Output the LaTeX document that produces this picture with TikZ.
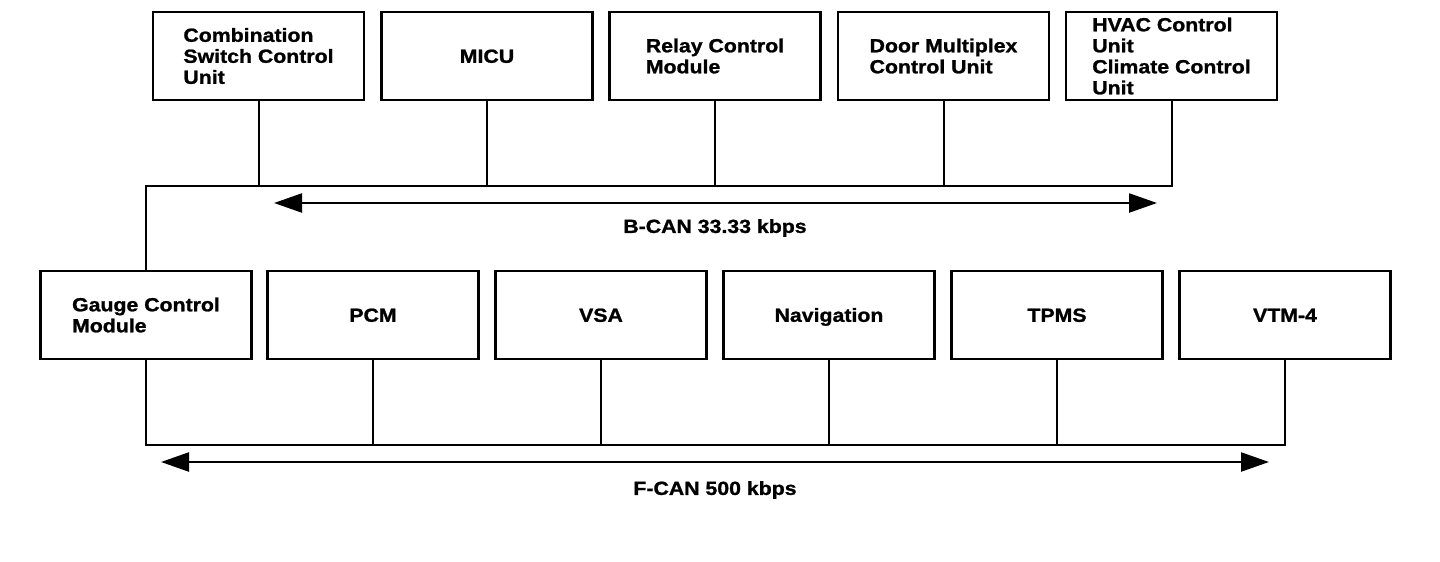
\documentclass[tikz,border=0pt]{standalone}
\usepackage{fontspec}
\setmainfont{Liberation Sans}[FakeStretch=1.12, BoldFeatures={FakeBold=1.2}]
\usetikzlibrary{arrows.meta}
\tikzset{
  unitbox/.style={draw, line width=2.8pt, minimum width=211pt, minimum height=88pt,
    inner sep=0pt, align=left, font=\bfseries\fontsize{19}{21}\selectfont},
  oneline/.style={text height=13.6pt, text depth=0pt},
  busline/.style={line width=2pt},
  canarrow/.style={line width=2.4pt, {Triangle[length=28pt,width=19pt]}-{Triangle[length=28pt,width=19pt]}},
  canlabel/.style={font=\bfseries\fontsize{19}{21}\selectfont, inner sep=0pt}
}
\begin{document}
\begin{tikzpicture}[x=1pt,y=-1pt]
\useasboundingbox (0,0) rectangle (1440,562);
% top row
\node[unitbox] (csu) at (258.5,56) {Combination\\Switch Control\\Unit};
\node[unitbox,oneline] (micu) at (487,56) {MICU};
\node[unitbox] (rcm) at (715,56) {Relay Control\\Module};
\node[unitbox] (dmcu) at (943.5,56) {Door Multiplex\\Control Unit};
\node[unitbox] (hvac) at (1171.5,56) {HVAC Control\\Unit\\Climate Control\\Unit};
% bottom row
\node[unitbox] (gcm) at (146,315) {Gauge Control\\Module};
\node[unitbox,oneline] (pcm) at (373,315) {PCM};
\node[unitbox,oneline] (vsa) at (601,315) {VSA};
\node[unitbox,oneline] (nav) at (829,315) {Navigation};
\node[unitbox,oneline] (tpms) at (1057,315) {TPMS};
\node[unitbox,oneline] (vtm) at (1285,315) {VTM-4};
% bus coordinates
\coordinate (bbus) at (146,186);
\coordinate (fbus) at (146,445);
% B-CAN bus
\draw[busline] (hvac.south) |- (bbus) -- (gcm.north);
\draw[busline] (csu.south) -- (csu.south |- bbus);
\draw[busline] (micu.south) -- (micu.south |- bbus);
\draw[busline] (rcm.south) -- (rcm.south |- bbus);
\draw[busline] (dmcu.south) -- (dmcu.south |- bbus);
% F-CAN bus
\draw[busline] (gcm.south) -- (fbus) -| (vtm.south);
\draw[busline] (pcm.south) -- (pcm.south |- fbus);
\draw[busline] (vsa.south) -- (vsa.south |- fbus);
\draw[busline] (nav.south) -- (nav.south |- fbus);
\draw[busline] (tpms.south) -- (tpms.south |- fbus);
% arrows
\coordinate (bl) at (274,203);
\coordinate (br) at (1157,203);
\coordinate (fl) at (161,462);
\coordinate (fr) at (1269,462);
\draw[canarrow] (bl) -- (br);
\draw[canarrow] (fl) -- (fr);
\node[canlabel] (blab) at (715,228) {B-CAN 33.33 kbps};
\node[canlabel] (flab) at (715,490) {F-CAN 500 kbps};
\end{tikzpicture}
\end{document}
